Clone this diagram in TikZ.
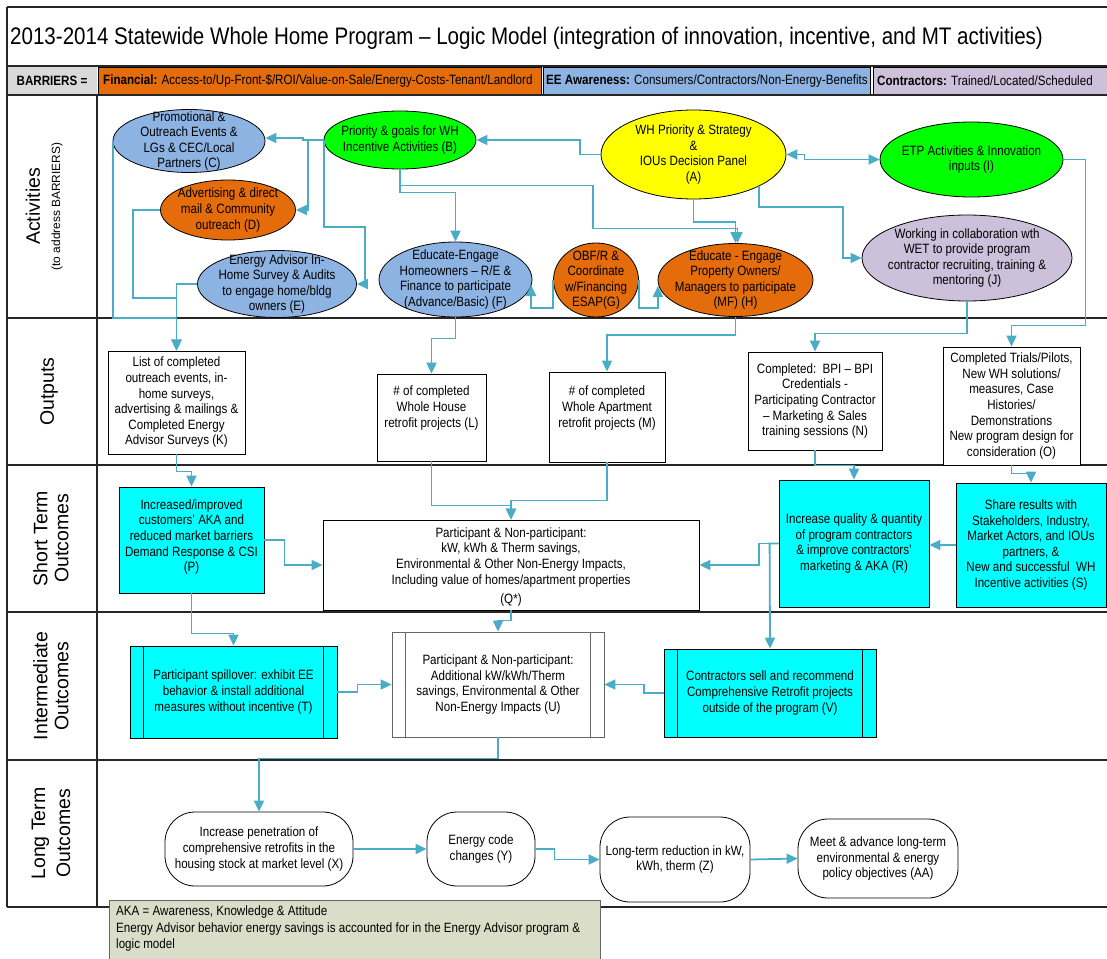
\documentclass[tikz,border=0pt]{standalone}
\usepackage{fontspec}
\setmainfont{Liberation Sans}[FakeStretch=0.86]
\newfontfamily\lanefont{Liberation Sans}
\usetikzlibrary{shapes.geometric,arrows.meta}
\definecolor{lineblue}{RGB}{75,172,198}
\definecolor{orangefill}{RGB}{228,108,10}
\definecolor{bluefill}{RGB}{141,179,226}
\definecolor{lavfill}{RGB}{204,192,218}
\definecolor{greenfill}{RGB}{0,255,0}
\definecolor{yellowfill}{RGB}{255,255,0}
\definecolor{cyanfill}{RGB}{0,255,255}
\definecolor{notefill}{RGB}{218,222,200}
\definecolor{framegray}{RGB}{38,38,38}
\definecolor{cellgray}{RGB}{217,217,217}

\begin{document}
\begin{tikzpicture}[x=1pt,y=-1pt,
  >={Triangle[length=11pt,width=10pt]},
  txt/.style={font=\fontsize{13.5}{15.6}\selectfont, align=center, inner sep=0pt},
  lane/.style={font=\lanefont\fontsize{19.5}{21}\selectfont, align=center, inner sep=0pt, rotate=90},
  ell/.style={ellipse, draw=black, line width=0.8pt, inner sep=0pt},
  box/.style={rectangle, draw=black, line width=0.8pt, inner sep=0pt},
  proc/.style={rectangle, draw=black, line width=0.8pt, inner sep=0pt,
    path picture={\draw[line width=0.8pt]
      ([xshift=13.5pt]path picture bounding box.north west) -- ([xshift=13.5pt]path picture bounding box.south west)
      ([xshift=-13.5pt]path picture bounding box.north east) -- ([xshift=-13.5pt]path picture bounding box.south east);}},
  term/.style={rectangle, rounded corners=30pt, draw=black, line width=0.8pt, fill=white, inner sep=0pt},
  frame/.style={draw=framegray, line width=1.2pt},
  conn/.style={draw=lineblue, line width=1.8pt, ->},
  conntwo/.style={draw=lineblue, line width=1.8pt, <->}
]
\useasboundingbox (0,0) rectangle (1107,958);

% ---------- frame, title and barrier row ----------
\fill[cellgray] (7,66) rectangle (97,95);
\draw[black, line width=0.8pt, fill=orangefill] (98,67.5) rectangle (541,94);
\draw[black, line width=0.8pt, fill=bluefill] (543,67.5) rectangle (870,94);
\draw[black, line width=0.8pt, fill=lavfill] (873,67.5) rectangle (1115,94);
\draw[frame] (7,7) -- (1115,7);
\draw[frame] (7,7) -- (7,907);
\draw[frame] (7,66) -- (1115,66);
\draw[frame, line width=2pt] (7,95) -- (1115,95);
\foreach \ly in {318,465,612,760,907}
  \draw[frame] (7,\ly) -- (1115,\ly);
\draw[frame] (97,95) -- (97,907);

\node[anchor=base west, inner sep=0pt, font=\fontsize{23.9}{28}\selectfont] (title) at (10,45)
  {2013-2014 Statewide Whole Home Program – Logic Model (integration of innovation, incentive, and MT activities)};

\node[txt] (barriers) at (52,81) {\textbf{BARRIERS =}};
\node[txt, anchor=west] (financial) at (103,81)
  {\textbf{Financial:} Access-to/Up-Front-\$/ROI/Value-on-Sale/Energy-Costs-Tenant/Landlord};
\node[txt, anchor=west] (awareness) at (546,81)
  {\textbf{EE Awareness:} Consumers/Contractors/Non-Energy-Benefits};
\node[txt, anchor=west] (contractors) at (877,81)
  {\textbf{Contractors:} Trained/Located/Scheduled};

% ---------- lane labels ----------
\node[lane] (lActivities) at (33,206.5) {Activities};
\node[lane, font=\lanefont\fontsize{11.9}{13}\selectfont] (lBarriers) at (57,206.5) {(to address BARRIERS)};
\node[lane] (lOutputs) at (49,391.5) {Outputs};
\node[lane] (lShort) at (51,538.5) {Short Term\\Outcomes};
\node[lane] (lInter) at (51,686) {Intermediate\\Outcomes};
\node[lane, font=\lanefont\fontsize{19.5}{25}\selectfont] (lLong) at (51,833.5) {Long Term\\Outcomes};

% ---------- activities ----------
\node[ell, fill=yellowfill, minimum width=185pt, minimum height=89pt,
  label={[txt]center:{WH Priority \& Strategy\\\&\\IOUs Decision Panel\\(A)}}] (A) at (693.5,154.5) {};
\node[ell, fill=greenfill, minimum width=152pt, minimum height=58pt,
  label={[txt]center:{Priority \& goals for WH\\Incentive Activities (B)}}] (B) at (400,140) {};
\node[ell, fill=bluefill, minimum width=152pt, minimum height=63pt,
  label={[txt]center:{Promotional \&\\Outreach Events \&\\LGs \& CEC/Local\\Partners (C)}}] (C) at (189,141) {};
\node[ell, fill=orangefill, minimum width=135pt, minimum height=60pt,
  label={[txt]center:{Advertising \& direct\\mail \& Community\\outreach (D)}}] (D) at (228,210) {};
\node[ell, fill=bluefill, minimum width=159pt, minimum height=67pt,
  label={[txt]center:{Energy Advisor In-\\Home Survey \& Audits\\to engage home/bldg\\owners (E)}}] (E) at (277,284) {};
\node[ell, fill=bluefill, minimum width=153pt, minimum height=75pt,
  label={[txt]center:{Educate-Engage\\Homeowners – R/E \&\\Finance to participate\\(Advance/Basic) (F)}}] (F) at (455.5,279.5) {};
\node[ell, fill=orangefill, minimum width=85pt, minimum height=74pt,
  label={[txt]center:{OBF/R \&\\Coordinate\\w/Financing\\ESAP(G)}}] (G) at (596,280) {};
\node[ell, fill=orangefill, minimum width=155pt, minimum height=73pt,
  label={[txt]center:{Educate - Engage\\Property Owners/\\Managers to participate\\(MF) (H)}}] (H) at (735.5,280) {};
\node[ell, fill=greenfill, minimum width=183pt, minimum height=75pt,
  label={[txt]center:{ETP Activities \& Innovation\\inputs (I)}}] (I) at (971.5,159.5) {};
\node[ell, fill=lavfill, minimum width=210pt, minimum height=86pt,
  label={[txt]center:{Working in collaboration wth\\WET to provide program\\contractor recruiting, training \&\\mentoring (J)}}] (J) at (967,258) {};

% ---------- outputs ----------
\node[box, fill=white, minimum width=137pt, minimum height=103pt,
  label={[txt]center:{List of completed\\outreach events, in-\\home surveys,\\advertising \& mailings \&\\Completed Energy\\Advisor Surveys (K)}}] (K) at (176.5,402.5) {};
\node[box, fill=white, minimum width=109pt, minimum height=87pt,
  label={[txt, yshift=9.5pt]center:{\# of completed\\Whole House\\retrofit projects (L)}}] (L) at (431.5,417.5) {};
\node[box, fill=white, minimum width=116pt, minimum height=90pt,
  label={[txt, yshift=9pt]center:{\# of completed\\Whole Apartment\\retrofit projects (M)}}] (M) at (607,417) {};
\node[box, fill=white, minimum width=134pt, minimum height=98pt,
  label={[txt]center:{Completed:~~BPI – BPI\\Credentials -\\Participating Contractor\\– Marketing \& Sales\\training sessions (N)}}] (N) at (815,401) {};
\node[box, fill=white, minimum width=137pt, minimum height=118pt,
  label={[txt]center:{Completed Trials/Pilots,\\New WH solutions/\\measures, Case\\Histories/\\Demonstrations\\New program design for\\consideration (O)}}] (O) at (1011.5,406) {};

% ---------- short term outcomes ----------
\node[box, fill=cyanfill, minimum width=145pt, minimum height=106pt,
  label={[txt, yshift=3pt]center:{Increased/improved\\customers' AKA and\\reduced market barriers\\Demand Response \& CSI\\(P)}}] (P) at (191.5,540) {};
\node[box, fill=white, minimum width=376pt, minimum height=90pt,
  label={[txt, yshift=-2pt]center:{Participant \& Non-participant:\\kW, kWh \& Therm savings,\\Environmental \& Other Non-Energy Impacts,\\Including value of homes/apartment properties\\[4pt](Q*)}}] (Q) at (511,565) {};
\node[box, fill=cyanfill, minimum width=150pt, minimum height=127pt,
  label={[txt]center:{Increase quality \& quantity\\of program contractors\\\& improve contractors'\\marketing \& AKA (R)}}] (R) at (854,543.5) {};
\node[box, fill=cyanfill, minimum width=150pt, minimum height=124pt,
  label={[txt]center:{Share results with\\Stakeholders, Industry,\\Market Actors, and IOUs\\partners, \&\\New and successful~~WH\\Incentive activities (S)}}] (S) at (1031,545) {};

% ---------- intermediate outcomes ----------
\node[proc, fill=cyanfill, minimum width=207pt, minimum height=92pt,
  label={[txt]center:{Participant spillover: exhibit EE\\behavior \& install additional\\measures without incentive (T)}}] (T) at (233.5,692) {};
\node[proc, draw=black!60, fill=white, minimum width=212pt, minimum height=105pt,
  label={[txt]center:{Participant \& Non-participant:\\Additional kW/kWh/Therm\\savings, Environmental \& Other\\Non-Energy Impacts (U)}}] (U) at (498,684.5) {};
\node[proc, fill=cyanfill, minimum width=212pt, minimum height=88pt,
  label={[txt]center:{Contractors sell and recommend\\Comprehensive Retrofit projects\\outside of the program (V)}}] (V) at (770,693) {};

% ---------- long term outcomes ----------
\node[term, minimum width=188pt, minimum height=74pt,
  label={[txt]center:{Increase penetration of\\comprehensive retrofits in the\\housing stock at market level (X)}}] (X) at (259,849) {};
\node[term, minimum width=108pt, minimum height=74pt,
  label={[txt]center:{Energy code\\changes (Y)}}] (Y) at (481,849) {};
\node[term, minimum width=150pt, minimum height=85pt,
  label={[txt]center:{Long-term reduction in kW,\\kWh, therm (Z)}}] (Z) at (675,859.5) {};
\node[term, minimum width=160pt, minimum height=79pt,
  label={[txt]center:{Meet \& advance long-term\\environmental \& energy\\policy objectives (AA)}}] (AA) at (878,858.5) {};

% ---------- connectors: activities ----------
\draw[conn] (A.west) -- ++(-21,0) |- (B.east);
\draw[conntwo] (A.east) -- ++(18,0) |- (I.west);
\draw[conn] (A.south east) -- ++(0,21) -- ++(84,0) |- (J.west);
\draw[conn] (A.south) -- ++(0,22.5) -| (H.north);
\draw[conn] (B.south) -- ++(0,16) -- ++(193,0) -- ++(0,43) -| ([xshift=2pt]H.north);
\draw[conn] (B.south) -- ++(0,23) -| (F.north);
\draw[conn] (B.west) -- ++(-21,0) |- ([yshift=3pt]C.east);
\draw[conn] ([xshift=-16pt]B.west) |- (D.east);
\draw[conn] (B.west) -- ++(0,87) -- ++(41,0) |- (E.east);
\draw[conn] (G.west) -- ++(0,28) -- ++(-22,0) -- ++(0,-23);
\draw[conn] (G.east) -- ++(0,28) -- ++(19,0) -- ++(0,-22);

% ---------- connectors: activities to outputs ----------
\draw[conn] (C.west) -- ++(0,177) -| (K.north);
\draw[conn] (D.west) -- ++(-27,0) -- ++(0,88) -| (K.north);
\draw[conn] (E.west) -| (K.north);
\draw[conn] (F.south) -- ++(0,21) -| (L.north);
\draw[conn] (H.south) -- ++(0,18) -| (M.north);
\draw[conn] (J.south) -- ++(0,32) -| (N.north);
\draw[conn] (I.east) -- ++(22,0) -- ++(0,166) -| (O.north);

% ---------- connectors: outputs to short term ----------
\draw[conn] (K.south) -- ++(0,17) -| (P.north);
\draw[conn] (L.south) -- ++(0,44) -| (Q.north);
\draw[conn] (M.south) -- ++(0,38) -| (Q.north);
\draw[conn] (N.south) -- ++(0,15) -| (R.north);
\draw[conn] (O.south) -- ++(0,8) -| (S.north);
\draw[conn] (P.east) -- ++(20,0) |- (Q.west);
\draw[conn] (S.west) -- (S.west -| R.east);
\draw[conn] (R.west) -- ++(-20,0) |- (Q.east);

% ---------- connectors: short term to intermediate ----------
\draw[conn] (R.west) -- ++(-9,0) -- (V.north);
\draw[conn] (Q.south) -- ++(0,10) -| (U.north);
\draw[conn] (P.south) -- ++(0,40) -| (T.north);
\draw[conn] (T.east) -- ++(20,0) |- (U.west);
\draw[conn] (V.west) -- ++(-20,0) |- (U.east);

% ---------- connectors: long term ----------
\draw[conn] (U.south) -- ++(0,21) -| (X.north);
\draw[conn] (X.east) -- (Y.west);
\draw[conn] (Y.east) -- ++(19,0) |- (Z.west);
\draw[conn] (Z.east) -- (AA.west);

% ---------- footnote ----------
\draw[draw=black!60, line width=0.8pt, fill=notefill] (109,900) rectangle (600,962);
\node[txt, anchor=north west, align=left, font=\fontsize{13.5}{16.5}\selectfont] (note) at (116,906)
  {AKA = Awareness, Knowledge \& Attitude\\Energy Advisor behavior energy savings is accounted for in the Energy Advisor program \&\\logic model};
\end{tikzpicture}
\end{document}
